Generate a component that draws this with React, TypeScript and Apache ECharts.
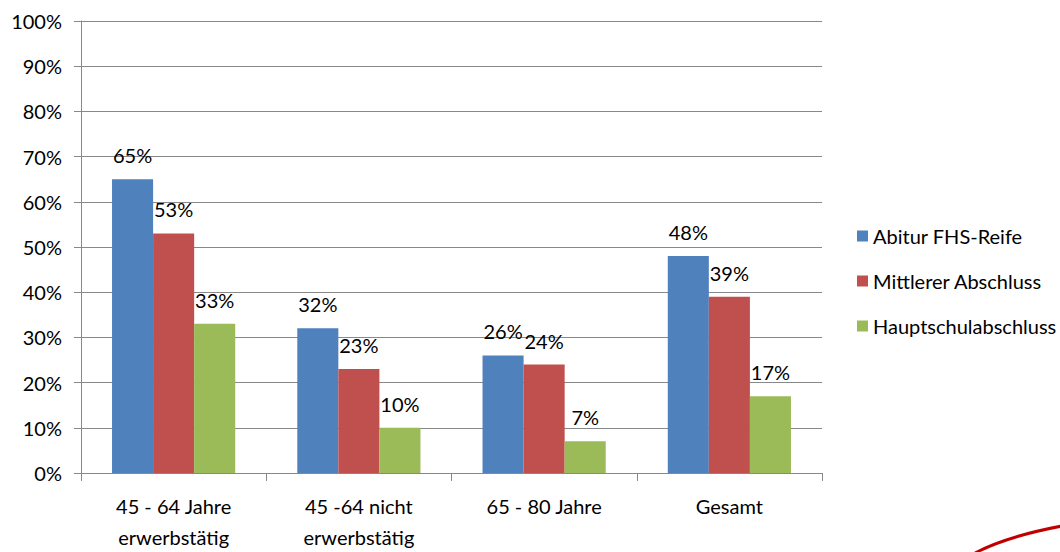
import React, { useEffect, useRef } from "react";
import * as echarts from "echarts";

const categories = ["45 - 64 Jahre\nerwerbstätig", "45 -64 nicht\nerwerbstätig", "65 - 80 Jahre", "Gesamt"];
const seriesNames = ["Abitur FHS-Reife", "Mittlerer Abschluss", "Hauptschulabschluss"];
const abitur = [65, 32, 26, 48];
const mittlerer = [53, 23, 24, 39];
const haupt = [33, 10, 7, 17];
const colors = ["#4F81BD", "#C0504D", "#9BBB59"];

const FONT = "Lato, 'Open Sans', sans-serif";
const FS = 20;

export default function App() {
  const ref = useRef<HTMLDivElement>(null);
  useEffect(() => {
    if (!ref.current) return;
    const chart = echarts.init(ref.current, null, { renderer: "svg" });
    const values = [abitur, mittlerer, haupt];
    chart.setOption({
      animation: false,
      textStyle: { fontFamily: FONT },
      grid: { left: 81, right: 238, top: 21, bottom: 76 },
      legend: {
        orient: "vertical",
        left: 857,
        top: 226,
        padding: 0,
        itemWidth: 11,
        itemHeight: 11,
        itemGap: 25,
        icon: "rect",
        textStyle: { fontSize: FS, color: "#000", fontFamily: FONT },
        data: seriesNames,
      },
      xAxis: {
        type: "category",
        data: categories,
        axisLine: { lineStyle: { color: "#888", width: 1 } },
        axisTick: { show: true, length: 8, lineStyle: { color: "#888" } },
        axisLabel: { fontSize: FS, color: "#000", margin: 17, lineHeight: 31, fontFamily: FONT },
      },
      yAxis: {
        type: "value",
        min: 0,
        max: 100,
        interval: 10,
        axisLine: { show: true, lineStyle: { color: "#888", width: 1 } },
        axisTick: { show: true, length: 7, lineStyle: { color: "#888" } },
        axisLabel: { formatter: "{value}%", fontSize: FS, color: "#000", margin: 19, fontFamily: FONT },
        splitLine: { lineStyle: { color: "#888", width: 1 } },
      },
      series: seriesNames.map((name, i) => ({
        name,
        type: "bar",
        data: values[i],
        barGap: "0%",
        barCategoryGap: "33.5%",
        itemStyle: { color: colors[i] },
        label: {
          show: true,
          position: "top",
          distance: 14,
          formatter: "{c}%",
          fontSize: FS,
          color: "#000",
          fontFamily: FONT,
        },
      })),
      graphic: [
        {
          type: "bezierCurve",
          shape: { x1: 975, y1: 553, cpx1: 1000, cpy1: 540, cpx2: 1030, cpy2: 532, x2: 1062, y2: 526 },
          style: { stroke: "#C00000", lineWidth: 3, fill: null },
        },
      ],
    });
    return () => chart.dispose();
  }, []);
  return <div ref={ref} style={{ position: "absolute", left: 0, top: 0, width: 1060, height: 552 }} />;
}
